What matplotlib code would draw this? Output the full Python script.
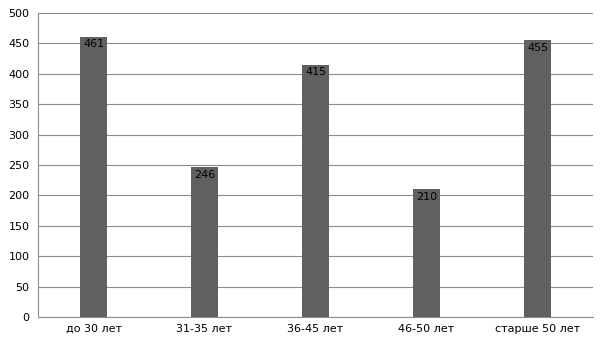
import matplotlib
matplotlib.use('Agg')
import matplotlib.pyplot as plt

categories = ['до 30 лет', '31-35 лет', '36-45 лет', '46-50 лет', 'старше 50 лет']
values = [461, 246, 415, 210, 455]
yticks = [0, 50, 100, 150, 200, 250, 300, 350, 400, 450, 500]

plt.rcParams['font.family'] = ['DejaVu Sans']

fig = plt.figure(figsize=(6.05, 3.4), dpi=100, facecolor='w')
ax = fig.add_axes([38/605, 1 - 317/340, 555/605, 304/340])

x = range(len(categories))
bars = ax.bar(x, values, width=0.245, color='#606060', zorder=3)
for xi, v in zip(x, values):
    ax.text(xi, v - 4, str(v), ha='center', va='top', fontsize=8, color='black', zorder=4)

ax.set_xlim(-0.5, len(categories) - 0.5)
ax.set_ylim(0, 500)
ax.set_yticks(yticks)
ax.set_xticks(list(x))
ax.set_xticklabels(categories)
ax.tick_params(axis='both', length=0, labelsize=8, colors='black')
ax.tick_params(axis='y', pad=6)
ax.tick_params(axis='x', pad=5)
ax.yaxis.grid(True, color='#8c8c8c', linewidth=0.8, zorder=0)
for s in ['top', 'right']:
    ax.spines[s].set_visible(False)
for s in ['left', 'bottom']:
    ax.spines[s].set_color('#8c8c8c')
    ax.spines[s].set_linewidth(0.8)

fig.savefig('out.png', dpi=100)
